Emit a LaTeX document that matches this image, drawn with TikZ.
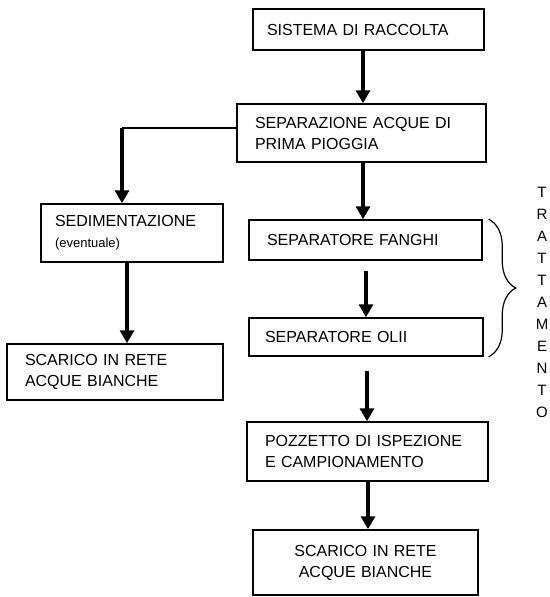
\documentclass[tikz,border=0pt]{standalone}
\usepackage{fontspec}
\setmainfont{Liberation Sans}
\usetikzlibrary{arrows.meta,decorations.pathreplacing}
\begin{document}
\begin{tikzpicture}[x=1pt,y=-1pt,
  boxstyle/.style={draw, line width=1.5pt, inner ysep=0pt, align=left,
    font=\fontsize{16}{21}\selectfont},
  arr/.style={line width=4pt, -{Triangle[width=14pt,length=13pt]}},
  thinline/.style={line width=1.3pt}]
\useasboundingbox (0,0) rectangle (549,597);
% boxes: centre, width, height, indent
\node[boxstyle, minimum width=231pt, minimum height=41pt, text width=203pt, inner xsep=14pt] (A) at (368.5,29.5) {SISTEMA DI RACCOLTA};
\node[boxstyle, minimum width=249pt, minimum height=58pt, text width=213pt, inner xsep=18pt] (B) at (361.5,133) {SEPARAZIONE ACQUE DI\\PRIMA PIOGGIA};
\node[boxstyle, minimum width=182pt, minimum height=58pt, text width=154pt, inner xsep=14pt] (C) at (132,233) {SEDIMENTAZIONE\\{\fontsize{13}{24}\selectfont (eventuale)}};
\node[boxstyle, minimum width=216pt, minimum height=56pt, text width=180pt, inner xsep=18pt] (D) at (115,372) {SCARICO IN RETE\\ACQUE BIANCHE};
\node[boxstyle, minimum width=233pt, minimum height=40pt, text width=197pt, inner xsep=18pt] (E) at (365.5,240) {SEPARATORE FANGHI};
\node[boxstyle, minimum width=234pt, minimum height=38pt, text width=202pt, inner xsep=16pt] (F) at (366,337) {SEPARATORE OLII};
\node[boxstyle, minimum width=241pt, minimum height=59pt, text width=205pt, inner xsep=18pt] (G) at (367.5,451.5) {POZZETTO DI ISPEZIONE\\E CAMPIONAMENTO};
\node[boxstyle, align=center, minimum width=225pt, minimum height=65pt, text width=197pt, inner xsep=14pt] (H) at (365.5,562.5) {SCARICO IN RETE\\ACQUE BIANCHE};
% treatment label
\node[align=center, font=\fontsize{15}{22}\selectfont] (T) at (542,302) {T\\R\\A\\T\\T\\A\\M\\E\\N\\T\\O};
% arrows main column
\coordinate (a1) at (363,0);
\draw[arr] (A.south -| a1) -- (B.north -| a1);
\draw[arr] (B.south -| a1) -- (E.north -| a1);
\coordinate (a2) at (366,0);
\draw[arr, shorten <=10pt] (E.south -| a2) -- (F.north -| a2);
\coordinate (a3) at (367,0);
\draw[arr, shorten <=14pt] (F.south -| a3) -- (G.north -| a3);
\coordinate (a4) at (368,0);
\draw[arr] (G.south -| a4) -- (H.north -| a4);
% left branch
\coordinate (k) at (122,128);
\draw[thinline] ([yshift=5pt]B.west) -- (k);
\draw[arr] (k) -- (k |- C.north);
\coordinate (a5) at (127,0);
\draw[arr] (C.south -| a5) -- (D.north -| a5);
% brace
\draw[thinline, line width=1.2pt, decorate, decoration={brace, amplitude=27pt}] ([xshift=6pt]E.north east) -- ([xshift=5pt]F.south east);
\end{tikzpicture}
\end{document}
